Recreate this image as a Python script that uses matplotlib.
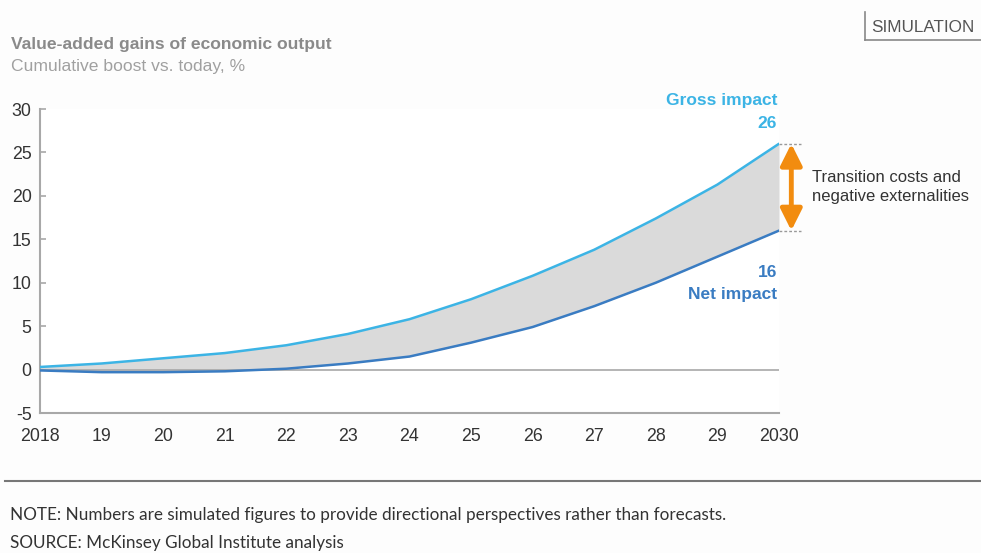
import matplotlib
matplotlib.use("Agg")
import matplotlib.pyplot as plt

# cumulative boost vs. today, % (simulated)
years = list(range(2018, 2031))
year_labels = ["2018", "19", "20", "21", "22", "23", "24", "25", "26", "27", "28", "29", "2030"]
gross = [0.3, 0.7, 1.3, 1.9, 2.8, 4.1, 5.8, 8.1, 10.8, 13.8, 17.4, 21.3, 26]
net = [-0.1, -0.3, -0.3, -0.2, 0.1, 0.7, 1.5, 3.1, 4.9, 7.3, 10.0, 13.0, 16]
y_ticks = [-5, 0, 5, 10, 15, 20, 25, 30]

GROSS_C = "#3cb4e5"
NET_C = "#3a7cc2"
FILL_C = "#dadada"
ORANGE = "#f28c0f"
AXIS_C = "#a8a8a8"

plt.rcParams["font.family"] = ["Liberation Sans", "DejaVu Sans"]
plt.rcParams["axes.unicode_minus"] = False

fig = plt.figure(figsize=(9.81, 5.53), dpi=100, facecolor="#fdfdfd")
ax = fig.add_axes([40 / 981, 1 - 413 / 553, 739 / 981, 304 / 553])
ax.set_facecolor("white")

ax.fill_between(years, net, gross, color=FILL_C, lw=0, zorder=1)
ax.axhline(0, color=AXIS_C, lw=1.2, zorder=2)
ax.plot(years, gross, color=GROSS_C, lw=1.8, zorder=3, solid_capstyle="round")
ax.plot(years, net, color=NET_C, lw=1.8, zorder=3, solid_capstyle="round")

ax.set_xlim(years[0], years[-1])
ax.set_ylim(y_ticks[0], y_ticks[-1])
ax.set_xticks(years)
ax.set_xticklabels(year_labels)
ax.set_yticks(y_ticks)
ax.tick_params(axis="x", length=0, pad=11, labelsize=12.8, labelcolor="#333333")
ax.tick_params(axis="y", direction="in", length=4, width=1.2, color=AXIS_C,
               pad=6, labelsize=12.8, labelcolor="#333333")
for side in ["top", "right"]:
    ax.spines[side].set_visible(False)
for side in ["left", "bottom"]:
    ax.spines[side].set_color(AXIS_C)
    ax.spines[side].set_linewidth(1.5)

# end labels
x_end = years[-1]
end_labels = [
    ("Gross impact", gross[-1], 43, GROSS_C),
    (f"{gross[-1]:.0f}", gross[-1], 20, GROSS_C),
    (f"{net[-1]:.0f}", net[-1], -42, NET_C),
    ("Net impact", net[-1], -64, NET_C),
]
for txt, v, dy, c in end_labels:
    ax.annotate(txt, (x_end, v), xytext=(-2, dy), textcoords="offset pixels",
                ha="right", va="center", fontsize=12.5, fontweight="bold",
                color=c, annotation_clip=False)

# gap between gross and net at the end year
for v in (gross[-1], net[-1]):
    ax.plot([x_end, x_end + 0.35], [v, v], color="#999999", lw=1,
            ls=(0, (2, 1.5)), clip_on=False, zorder=2)
ax.annotate("", xy=(x_end + 0.2, gross[-1]), xytext=(x_end + 0.2, net[-1]),
            arrowprops=dict(arrowstyle="<|-|>,head_length=1.3,head_width=0.65",
                            color=ORANGE, lw=3.5, shrinkA=0, shrinkB=0),
            annotation_clip=False, zorder=4)
ax.text(x_end + 0.53, (gross[-1] + net[-1]) / 2, "Transition costs and\nnegative externalities",
        ha="left", va="center", fontsize=12, color="#333333", linespacing=1.3)

# titles
fig.text(11 / 981, 1 - 45 / 553, "Value-added gains of economic output",
         ha="left", va="center", fontsize=12.6, fontweight="bold", color="#8a8a8a")
fig.text(11 / 981, 1 - 67 / 553, "Cumulative boost vs. today, %",
         ha="left", va="center", fontsize=12.6, color="#a0a0a0")

# SIMULATION tag
fig.text(871 / 981, 1 - 27 / 553, "SIMULATION", ha="left", va="center",
         fontsize=12.3, color="#555555")
fig.add_artist(plt.Line2D([865 / 981, 865 / 981], [1 - 12 / 553, 1 - 40 / 553],
                          color="#888888", lw=1.2))
fig.add_artist(plt.Line2D([865 / 981, 1.0], [1 - 40 / 553, 1 - 40 / 553],
                          color="#888888", lw=1.2))

# footer
fig.add_artist(plt.Line2D([5 / 981, 1.0], [1 - 481 / 553, 1 - 481 / 553],
                          color="#777777", lw=1.5))
fig.text(10 / 981, 1 - 515 / 553,
         "NOTE: Numbers are simulated figures to provide directional perspectives rather than forecasts.",
         ha="left", va="center", fontsize=12.3, color="#333333", family=["Lato", "DejaVu Sans"])
fig.text(10 / 981, 1 - 543 / 553, "SOURCE: McKinsey Global Institute analysis",
         ha="left", va="center", fontsize=12.3, color="#333333", family=["Lato", "DejaVu Sans"])

fig.savefig("out.png", dpi=100, facecolor=fig.get_facecolor())
